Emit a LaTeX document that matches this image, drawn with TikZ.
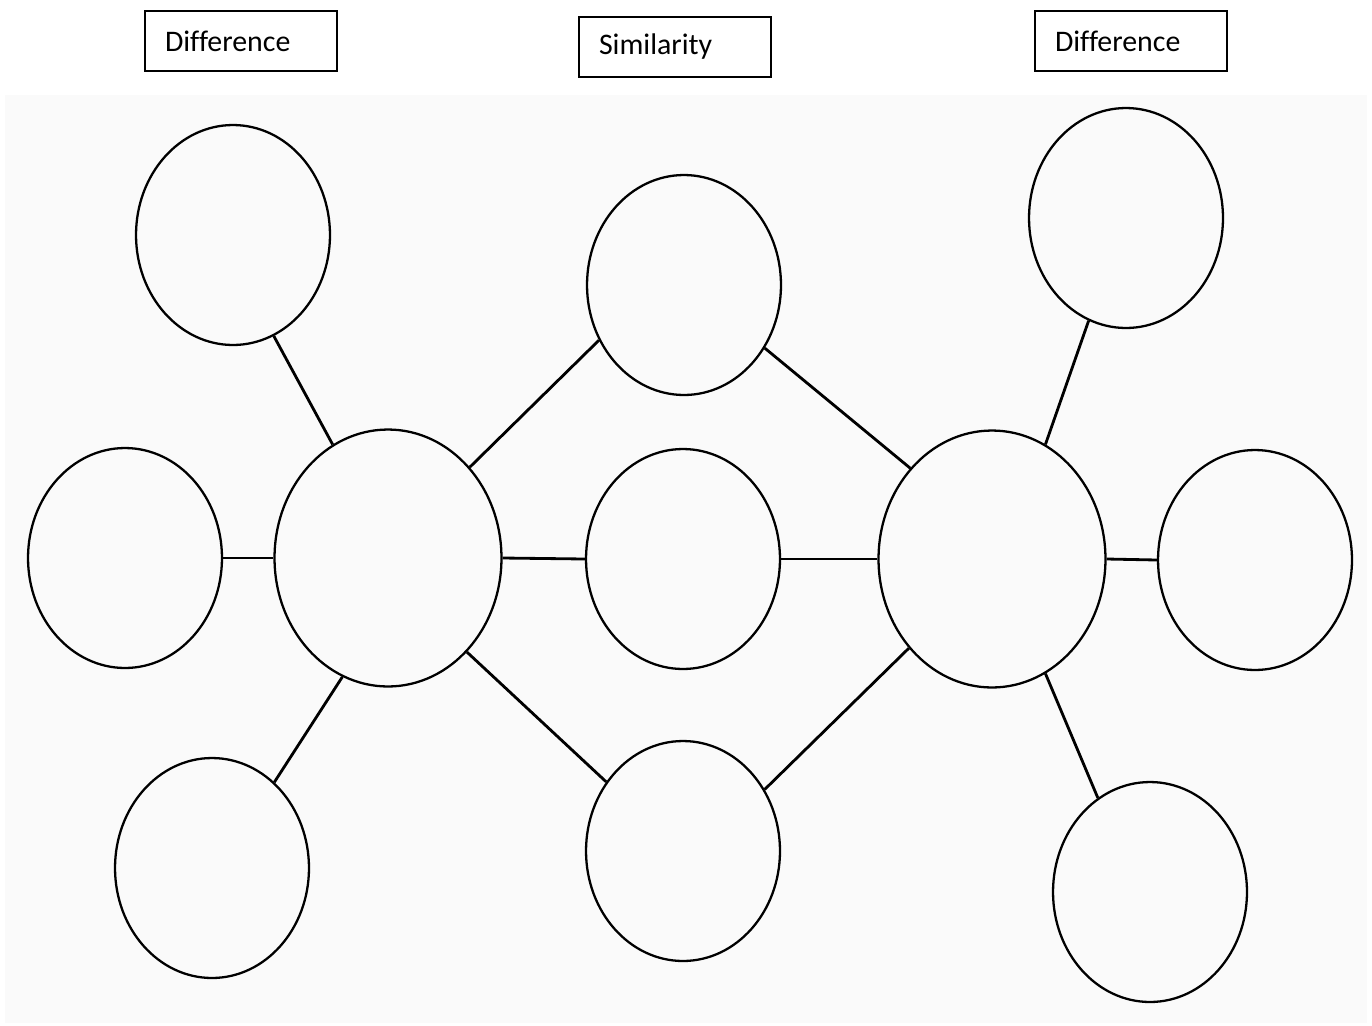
\documentclass[tikz,border=0pt]{standalone}
\usepackage{fontspec}
\setmainfont{Carlito}[Ligatures=CommonOff]
\usepackage{tikz}
\usetikzlibrary{shapes.geometric}

\begin{document}
\begin{tikzpicture}[x=0.02cm,y=-0.02cm,
    bubble/.style={draw,ellipse,line width=1.3pt,minimum width=3.88cm,minimum height=4.4cm,inner sep=0pt},
    hub/.style={bubble,minimum width=4.54cm,minimum height=5.14cm},
    link/.style={line width=1.6pt},
    headbox/.style={draw,line width=0.8pt,minimum height=1.2cm,text width=3.04cm,inner xsep=0.4cm,inner ysep=0pt,align=left,font=\fontsize{17}{20}\selectfont}]
    \useasboundingbox (0,0) rectangle (1372,1025);
    \fill[black!2] (5,95) rectangle (1367,1023);

    \node[headbox] (dl) at (241,41) {Difference};
    \node[headbox] (sim) at (675,47) {Similarity};
    \node[headbox] (dr) at (1131,41) {Difference};

    \node[hub] (L) at (388,558) {};
    \node[hub] (R) at (992,559) {};
    \node[bubble] (l1) at (233,235) {};
    \node[bubble] (l2) at (125,558) {};
    \node[bubble] (l3) at (212,868) {};
    \node[bubble] (s1) at (684,285) {};
    \node[bubble] (s2) at (683,559) {};
    \node[bubble] (s3) at (683,851) {};
    \node[bubble] (r1) at (1126,218) {};
    \node[bubble] (r2) at (1255,560) {};
    \node[bubble] (r3) at (1150,892) {};

    \draw[link] (L.116) to (l1.-68);
    \draw[link] (L.180) to (l2.0);
    \draw[link] (L.-111) to (l3.54);
    \draw[link] (L.48) to (s1.-147);
    \draw[link] (L.0) to (s2.180);
    \draw[link] (L.-50) to (s3.138);
    \draw[link] (R.132) to (s1.-38);
    \draw[line width=0.8pt] (R.180) to (s2.0);
    \draw[link] (R.-133) to (s3.37);
    \draw[link] (R.65) to (r1.-110);
    \draw[link] (R.0) to (r2.180);
    \draw[link] (R.-65) to (r3.119);
\end{tikzpicture}
\end{document}
